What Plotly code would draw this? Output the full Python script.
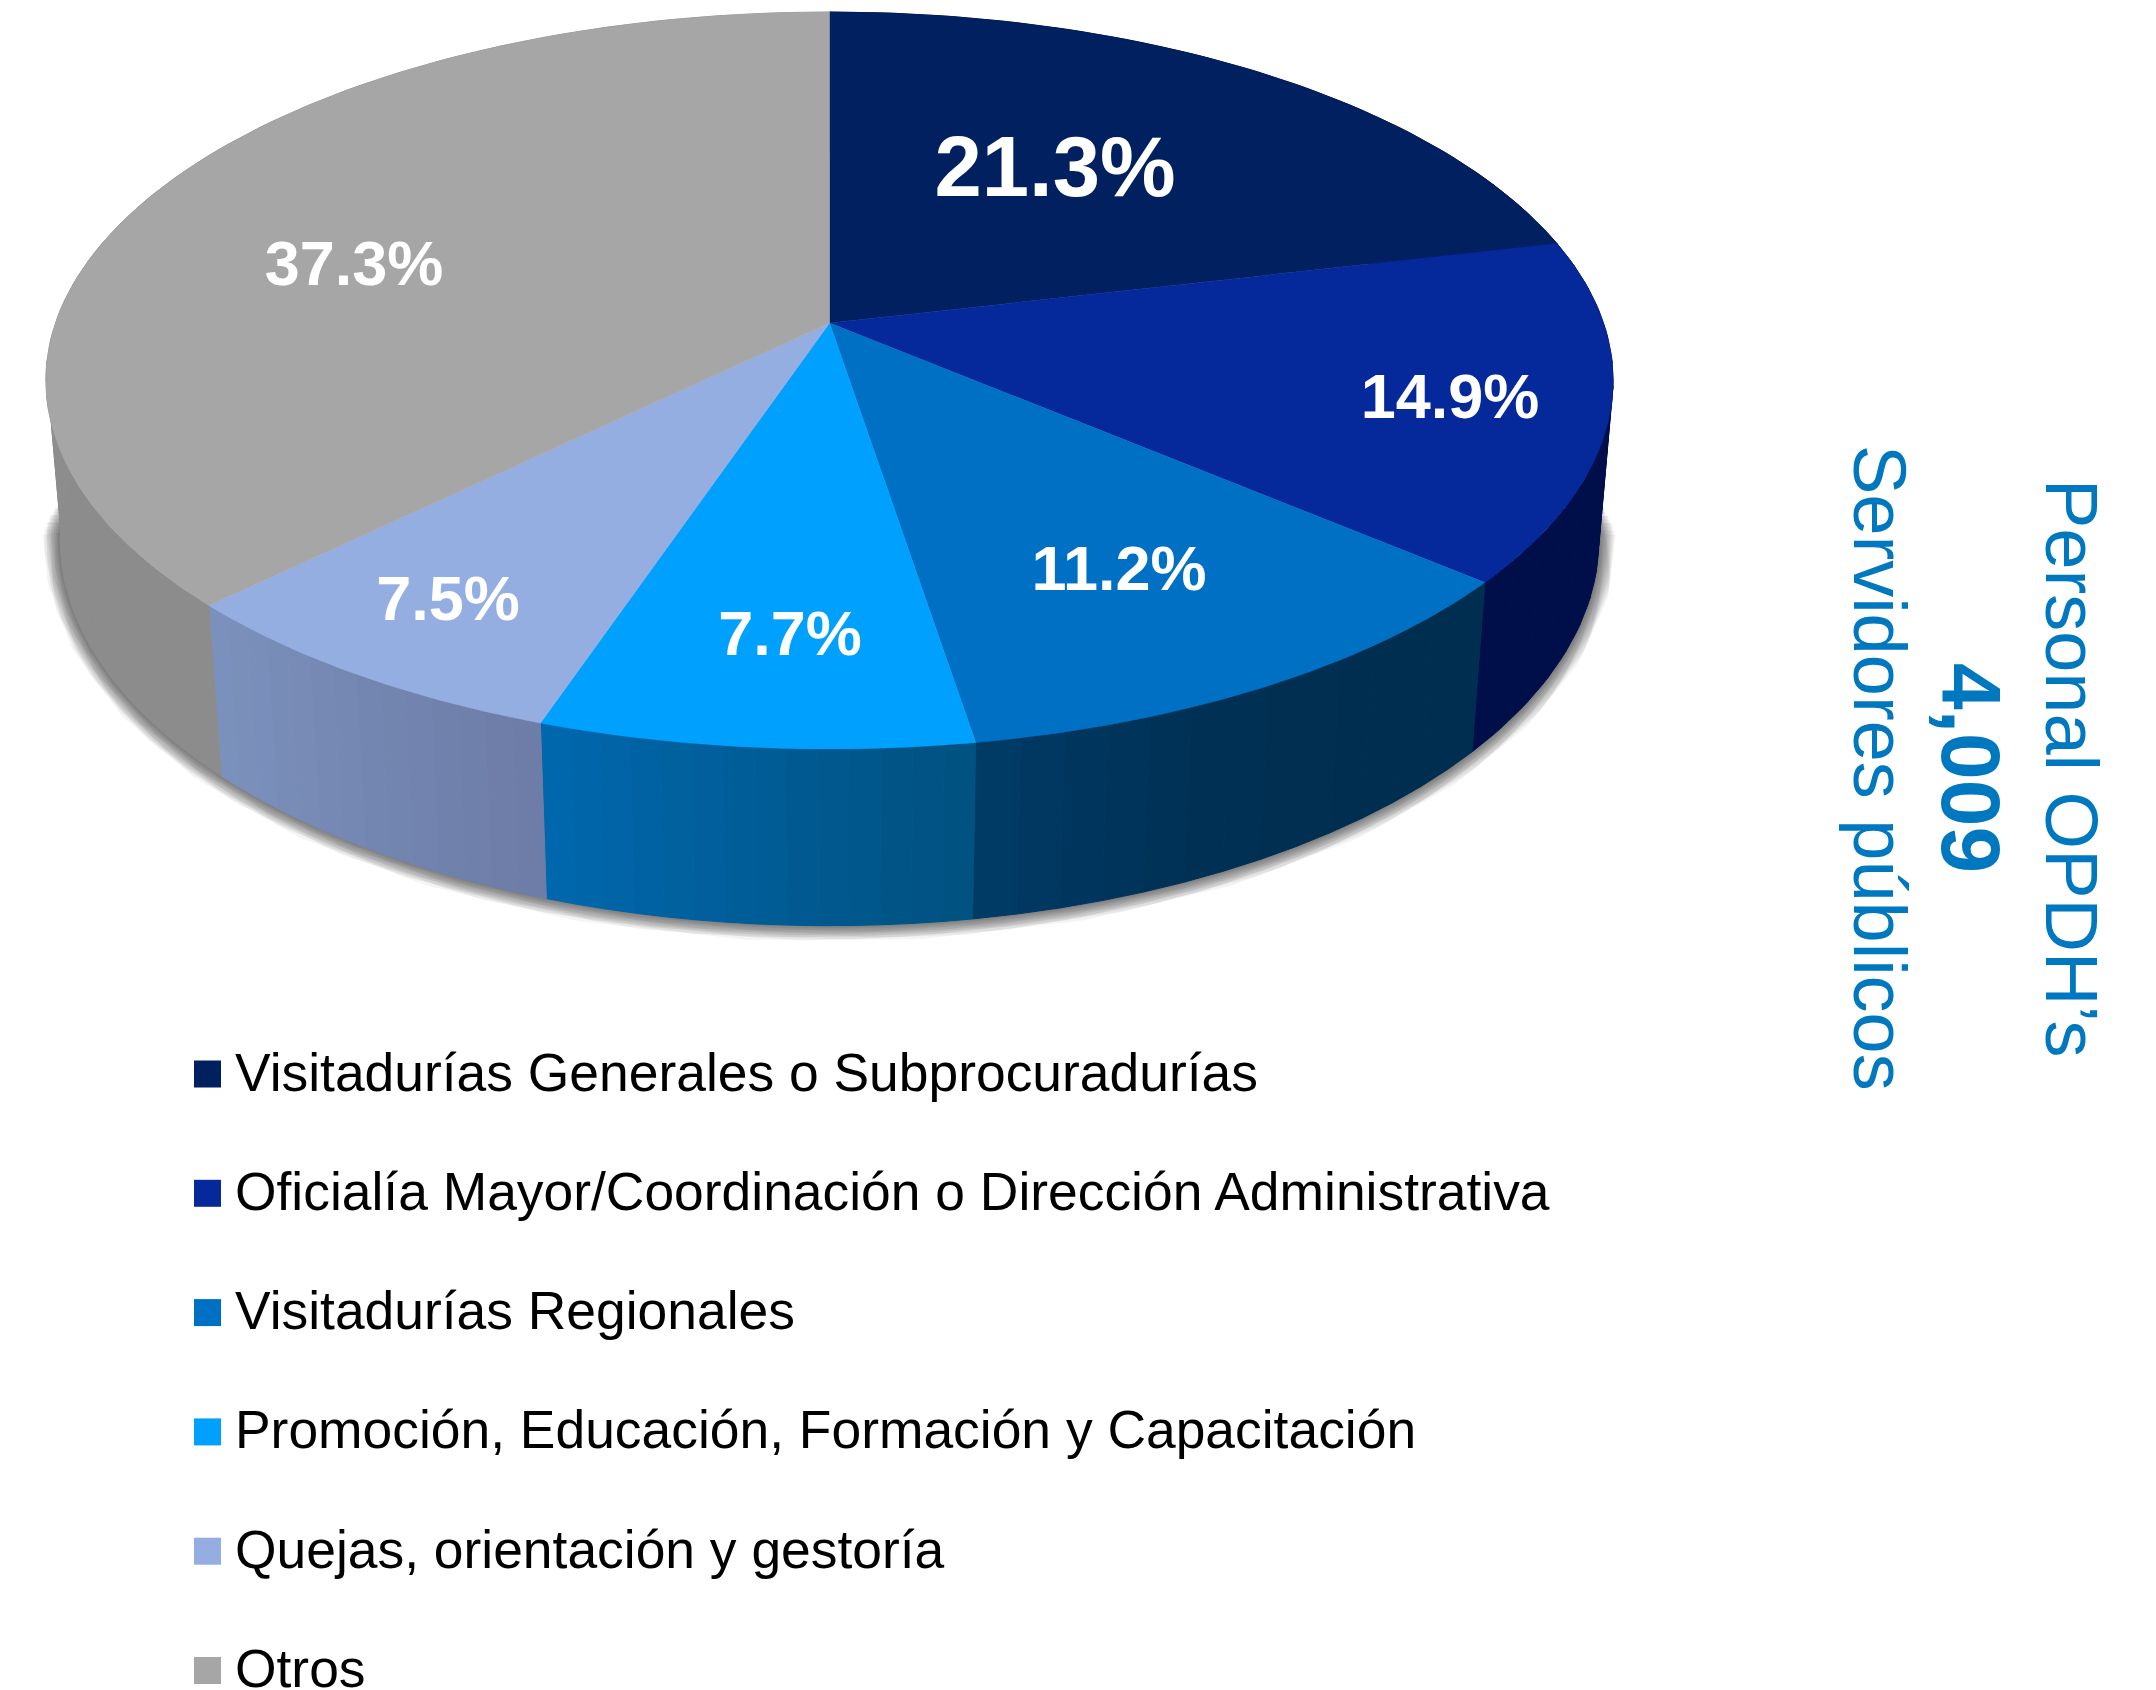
import numpy as np
import plotly.graph_objects as go

categories = ["Visitadurías Generales o Subprocuradurías",
              "Oficialía Mayor/Coordinación o Dirección Administrativa",
              "Visitadurías Regionales",
              "Promoción, Educación, Formación y Capacitación",
              "Quejas, orientación y gestoría",
              "Otros"]
values = [21.3, 14.9, 11.2, 7.7, 7.5, 37.3]
top_colors = ["#002060", "#05299B", "#0070C5", "#00A0FF", "#95AEE1", "#A6A6A6"]
wall_start = ["#000F4A", "#000F4A", "#002E50", "#00517F", "#6C7CA6", "#8C8C8C"]
wall_end = ["#000F4A", "#000F4A", "#003C68", "#0068AE", "#7C92BE", "#9A9A9A"]
wall_gamma = [1, 1, 3, 1, 1, 2]
label_font_sizes = [85, 63, 63, 63, 63, 63]
label_x = [1055, 1450, 1119, 790, 448, 354]
label_y = [175, 402, 574, 639, 604, 269]
side_lines = ["Personal OPDH’s", "<b>4,009</b>", "Servidores públicos"]
side_x = [2072, 1971, 1880]
side_font_sizes = [74, 84, 74]
side_color = "#0078C0"

CX, CY, A, B, K, H, M = 829.5, 323, 774, 359.5, 0.156, 160, 0.018


def project(theta_deg, r=1.0, z=0.0):
    t = np.radians(theta_deg)
    u, v = r * np.sin(t), -r * np.cos(t)
    den = 1 - K * v + M * z
    return CX + A * u / den, CY + (B * v + H * z) / den


def rgb(c):
    return np.array([int(c[i:i + 2], 16) for i in (1, 3, 5)], float)


def mix(c1, c2, f):
    p = rgb(c1) * (1 - f) + rgb(c2) * f
    return "rgb(%d,%d,%d)" % tuple(np.round(p))


fig = go.Figure()
bounds = np.concatenate([[0], np.cumsum(values)]) / sum(values) * 360

# soft shadow beneath the lower rim: wider, fainter layers on shorter arcs
sx, sy = project(np.linspace(0, 360, 721), 1.0, 1.0)
for w in range(34, 0, -2):
    keep = sy > 490 + w * 1.2
    fig.add_trace(go.Scatter(x=sx[keep], y=sy[keep] - 1, mode="lines", hoverinfo="skip", showlegend=False,
                             line=dict(color="rgba(40,40,40,0.05)", width=w)))

# side walls, drawn in strips so they carry the gradient
for i in range(len(values)):
    a0, a1 = bounds[i], bounds[i + 1]
    n = 14
    edges = np.linspace(a0, a1, n + 1)
    for j in range(n):
        th = np.linspace(edges[j], edges[j + 1], 8)
        xt, yt = project(th, 1.0, 0.0)
        xb, yb = project(th[::-1], 1.0, 1.0)
        col = mix(wall_start[i], wall_end[i], ((j + 0.5) / n) ** wall_gamma[i])
        fig.add_trace(go.Scatter(x=np.r_[xt, xb, xt[0]], y=np.r_[yt, yb, yt[0]], mode="lines",
                                 fill="toself", fillcolor=col, line=dict(color=col, width=1),
                                 hoverinfo="skip", showlegend=False))

# top face
for i in range(len(values)):
    th = np.linspace(bounds[i], bounds[i + 1], max(int(bounds[i + 1] - bounds[i]) * 2, 8))
    xt, yt = project(th)
    fig.add_trace(go.Scatter(x=np.r_[CX, xt, CX], y=np.r_[CY, yt, CY], mode="lines", fill="toself",
                             fillcolor=top_colors[i], line=dict(color=top_colors[i], width=0.5),
                             name=categories[i], text=f"{values[i]}%", hoverinfo="name+text",
                             showlegend=False))

# data labels
fig.add_trace(go.Scatter(x=label_x, y=label_y, mode="text", text=[f"<b>{v}%</b>" for v in values],
                         textfont=dict(family="Liberation Sans", color="white", size=label_font_sizes),
                         hoverinfo="skip", showlegend=False))

# legend
step = 119.3 * np.arange(len(categories))
fig.add_trace(go.Scatter(x=[207.5] * len(categories), y=1074 + step, mode="markers", hoverinfo="skip",
                         showlegend=False,
                         marker=dict(symbol="square", size=27, color=top_colors, line=dict(width=0))))
annotations = [dict(x=232.5, y=yy, xref="x", yref="y", text=c, showarrow=False, xanchor="left",
                    yanchor="middle", font=dict(family="Liberation Sans", size=53.4, color="black"))
               for c, yy in zip(categories, 1072 + step)]
annotations += [dict(x=xx, y=768, xref="x", yref="y", text=t, showarrow=False, textangle=90,
                     xanchor="center", yanchor="middle",
                     font=dict(family="Liberation Sans", size=s, color=side_color))
                for t, xx, s in zip(side_lines, side_x, side_font_sizes)]

fig.update_layout(width=2156, height=1690, margin=dict(l=0, r=0, t=0, b=0), autosize=False,
                  paper_bgcolor="white", plot_bgcolor="white", annotations=annotations,
                  xaxis=dict(range=[0, 2156], visible=False, fixedrange=True),
                  yaxis=dict(range=[1690, 0], visible=False, fixedrange=True))
fig.write_html("out.html", config=dict(displayModeBar=False),
               post_script="document.body.style.margin='0';document.body.style.overflow='hidden';")
